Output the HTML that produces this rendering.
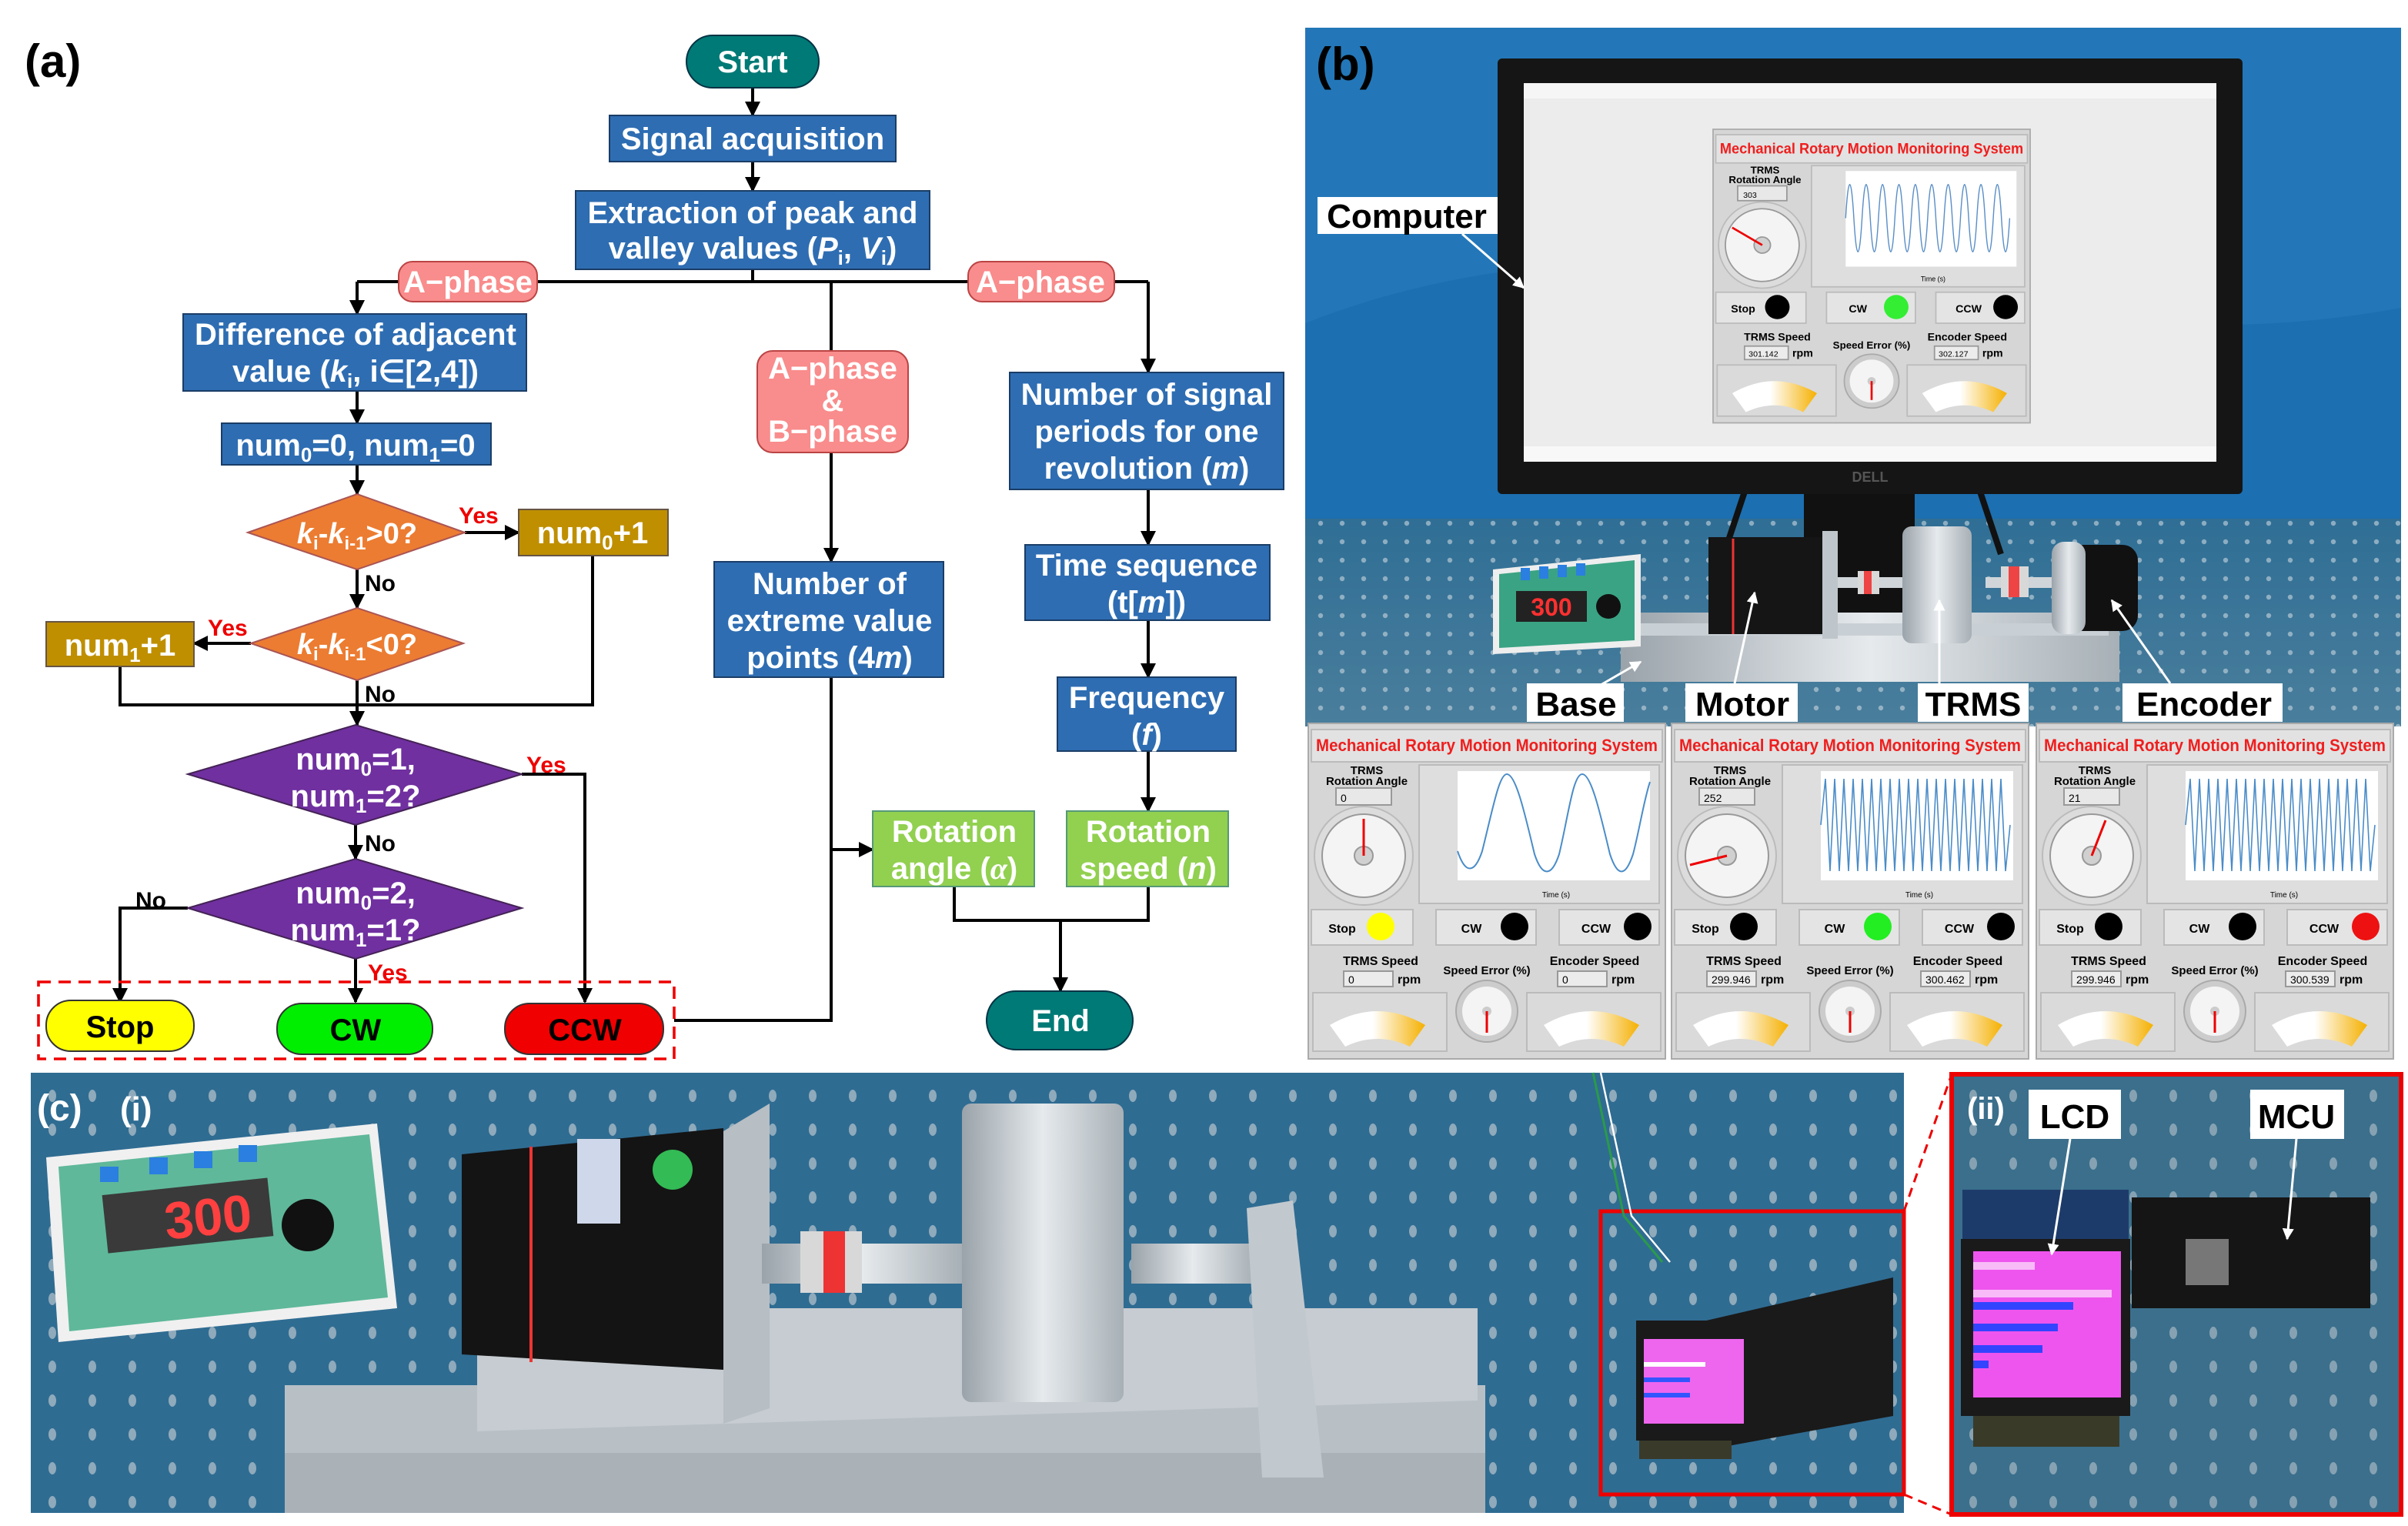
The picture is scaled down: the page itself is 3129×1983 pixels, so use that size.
<!DOCTYPE html>
<html><head><meta charset="utf-8">
<style>
html,body{margin:0;padding:0;background:#fff;}
svg{display:block;}
.t{font-family:"Liberation Sans Narrow","Liberation Sans",sans-serif;font-weight:bold;fill:#fff;text-anchor:middle;}
.k{font-family:"Liberation Sans Narrow","Liberation Sans",sans-serif;font-weight:bold;fill:#000;}
.r{font-family:"Liberation Sans Narrow","Liberation Sans",sans-serif;font-weight:bold;fill:#e00;}
.pl{font-family:"Liberation Sans","DejaVu Sans",sans-serif;}
.ln{stroke:#000;stroke-width:2;fill:none;}
.lb{font-family:"Liberation Sans",sans-serif;font-weight:bold;fill:#000;text-anchor:middle;}
</style></head>
<body>
<svg width="3129" height="1983" viewBox="0 0 1564.5 991.5" xmlns="http://www.w3.org/2000/svg">
<defs>
<marker id="a" viewBox="0 0 10 10" refX="9" refY="5" markerWidth="5" markerHeight="5" orient="auto"><path d="M0,0L10,5L0,10z" fill="#000"/></marker>
<marker id="w" viewBox="0 0 10 10" refX="9" refY="5" markerWidth="5" markerHeight="5" orient="auto"><path d="M0,0L10,5L0,10z" fill="#fff"/></marker>
<pattern id="dots" width="14" height="12" patternUnits="userSpaceOnUse"><circle cx="4" cy="4" r="1.6" fill="#c9d6de"/></pattern>
<pattern id="dots2" width="26" height="22" patternUnits="userSpaceOnUse"><ellipse cx="8" cy="8" rx="2.5" ry="4" fill="#b8c4cc"/></pattern>
<linearGradient id="gy" x1="0" x2="1"><stop offset="0" stop-color="#fff"/><stop offset="0.45" stop-color="#fff"/><stop offset="1" stop-color="#f5b000"/></linearGradient>
<linearGradient id="sil" x1="0" x2="1"><stop offset="0" stop-color="#9aa3aa"/><stop offset="0.5" stop-color="#e6eaed"/><stop offset="1" stop-color="#a7b0b6"/></linearGradient>
<linearGradient id="tbl" x1="0" y1="0" x2="0" y2="1"><stop offset="0" stop-color="#2f6e95"/><stop offset="1" stop-color="#4a7e9c"/></linearGradient>
<g id="pp">
 <rect x="0" y="0" width="232" height="218" fill="#d6d6d6" stroke="#aaa"/>
 <rect x="2" y="4" width="228" height="21" fill="#e2e2e2" stroke="#bbb"/>
 <text x="5" y="18" font-size="11" fill="#f01e1e" class="pl" font-weight="bold" textLength="222" lengthAdjust="spacingAndGlyphs">Mechanical Rotary Motion Monitoring System</text>
 <text x="38" y="33" font-size="7.5" text-anchor="middle" class="pl" font-weight="bold">TRMS</text>
 <text x="38" y="40" font-size="7.5" text-anchor="middle" class="pl" font-weight="bold">Rotation Angle</text>
 <rect x="18" y="42" width="36" height="11" fill="#e8e8e8" stroke="#999"/>
 <circle cx="36" cy="86" r="32" fill="#dcdcdc" stroke="#bbb"/>
 <circle cx="36" cy="86" r="27" fill="#f4f4f4" stroke="#999"/>
 <circle cx="36" cy="86" r="6" fill="#d0d0d0" stroke="#999"/>
 <rect x="72" y="27" width="156" height="90" fill="#dedede" stroke="#bbb"/>
 <rect x="97" y="31" width="125" height="71" fill="#fff"/>
 <text x="161" y="113" font-size="5" text-anchor="middle" class="pl">Time (s)</text>
 <rect x="2" y="121" width="66" height="23" fill="#e4e4e4" stroke="#bbb"/>
 <rect x="83" y="121" width="65" height="23" fill="#e4e4e4" stroke="#bbb"/>
 <rect x="163" y="121" width="65" height="23" fill="#e4e4e4" stroke="#bbb"/>
 <text x="22" y="136" font-size="8" text-anchor="middle" class="pl" font-weight="bold">Stop</text>
 <text x="106" y="136" font-size="8" text-anchor="middle" class="pl" font-weight="bold">CW</text>
 <text x="187" y="136" font-size="8" text-anchor="middle" class="pl" font-weight="bold">CCW</text>
 <text x="47" y="157" font-size="8" text-anchor="middle" class="pl" font-weight="bold">TRMS Speed</text>
 <text x="116" y="163" font-size="7.5" text-anchor="middle" class="pl" font-weight="bold">Speed Error (%)</text>
 <text x="186" y="157" font-size="8" text-anchor="middle" class="pl" font-weight="bold">Encoder Speed</text>
 <rect x="23" y="161" width="32" height="10" fill="#ececec" stroke="#999"/>
 <rect x="162" y="161" width="32" height="10" fill="#ececec" stroke="#999"/>
 <text x="58" y="169" font-size="8" class="pl" font-weight="bold">rpm</text>
 <text x="197" y="169" font-size="8" class="pl" font-weight="bold">rpm</text>
 <rect x="3" y="175" width="87" height="38" fill="#dadada" stroke="#bbb"/>
 <rect x="142" y="175" width="87" height="38" fill="#dadada" stroke="#bbb"/>
 <path d="M14,196 Q45,178 76,196 L66,210 Q45,200 24,210 Z" fill="url(#gy)"/>
 <path d="M153,196 Q184,178 215,196 L205,210 Q184,200 163,210 Z" fill="url(#gy)"/>
 <circle cx="116" cy="187" r="20" fill="#ccc" stroke="#aaa"/>
 <circle cx="116" cy="187" r="16" fill="#f4f4f4"/>
 <circle cx="116" cy="187" r="3" fill="#ccc"/>
 <line x1="116" y1="187" x2="116" y2="201" stroke="#e00" stroke-width="1.5"/>
</g>
</defs>

<!-- ============ (a) FLOWCHART ============ -->
<text x="16" y="50" class="k" font-size="30" font-family="Liberation Sans">(a)</text>

<g class="ln">
<line x1="489" y1="57" x2="489" y2="75" marker-end="url(#a)"/>
<line x1="489" y1="105" x2="489" y2="124" marker-end="url(#a)"/>
<line x1="489" y1="175" x2="489" y2="183"/>
<line x1="232" y1="183" x2="746" y2="183"/>
<line x1="232" y1="183" x2="232" y2="204" marker-end="url(#a)"/>
<line x1="232" y1="254" x2="232" y2="275" marker-end="url(#a)"/>
<line x1="232" y1="302" x2="232" y2="321" marker-end="url(#a)"/>
<line x1="302" y1="346" x2="337" y2="346" marker-end="url(#a)"/>
<line x1="232" y1="370" x2="232" y2="395" marker-end="url(#a)"/>
<line x1="163" y1="418" x2="126" y2="418" marker-end="url(#a)"/>
<line x1="232" y1="442" x2="232" y2="471" marker-end="url(#a)"/>
<polyline points="78,433 78,458 385,458 385,361"/>
<line x1="231" y1="536" x2="231" y2="558" marker-end="url(#a)"/>
<polyline points="339,503 380,503 380,651" marker-end="url(#a)"/>
<polyline points="122,590 78,590 78,651" marker-end="url(#a)"/>
<line x1="231" y1="623" x2="231" y2="651" marker-end="url(#a)"/>
<polyline points="438,663 540,663 540,440"/>
<line x1="540" y1="183" x2="540" y2="228"/>
<line x1="540" y1="294" x2="540" y2="365" marker-end="url(#a)"/>
<line x1="540" y1="552" x2="567" y2="552" marker-end="url(#a)"/>
<line x1="746" y1="183" x2="746" y2="242" marker-end="url(#a)"/>
<line x1="746" y1="318" x2="746" y2="354" marker-end="url(#a)"/>
<line x1="746" y1="403" x2="746" y2="440" marker-end="url(#a)"/>
<line x1="746" y1="488" x2="746" y2="527" marker-end="url(#a)"/>
<polyline points="620,576 620,598 746,598 746,576"/>
<line x1="689" y1="598" x2="689" y2="644" marker-end="url(#a)"/>
</g>

<rect x="446" y="23" width="86" height="34" rx="17" fill="#007a76" stroke="#034"/>
<text x="489" y="47" class="t" font-size="20">Start</text>

<rect x="396" y="75" width="186" height="30" fill="#2e6db2" stroke="#1a3d66"/>
<text x="489" y="97" class="t" font-size="20">Signal acquisition</text>

<rect x="374" y="124" width="230" height="51" fill="#2e6db2" stroke="#1a3d66"/>
<text x="489" y="145" class="t" font-size="20">Extraction of peak and</text>
<text x="489" y="168" class="t" font-size="20">valley values (<tspan font-style="italic">P</tspan><tspan font-size="13" dy="4">i</tspan><tspan dy="-4">, </tspan><tspan font-style="italic">V</tspan><tspan font-size="13" dy="4">i</tspan><tspan dy="-4">)</tspan></text>

<rect x="259" y="170" width="90" height="26" rx="9" fill="#f98c8c" stroke="#b44"/>
<text x="304" y="190" class="t" font-size="20">A−phase</text>
<rect x="629" y="170" width="95" height="26" rx="9" fill="#f98c8c" stroke="#b44"/>
<text x="676" y="190" class="t" font-size="20">A−phase</text>

<rect x="119" y="204" width="223" height="50" fill="#2e6db2" stroke="#1a3d66"/>
<text x="231" y="224" class="t" font-size="20">Difference of adjacent</text>
<text x="231" y="248" class="t" font-size="20">value (<tspan font-style="italic">k</tspan><tspan font-size="13" dy="4">i</tspan><tspan dy="-4">, i∈[2,4])</tspan></text>

<rect x="144" y="275" width="175" height="27" fill="#2e6db2" stroke="#1a3d66"/>
<text x="231" y="296" class="t" font-size="20">num<tspan font-size="13" dy="4">0</tspan><tspan dy="-4">=0, num</tspan><tspan font-size="13" dy="4">1</tspan><tspan dy="-4">=0</tspan></text>

<polygon points="161,346 232,321 302,346 232,370" fill="#ec7c31" stroke="#a55"/>
<text x="232" y="353" class="t" font-size="19"><tspan font-style="italic">k</tspan><tspan font-size="12" dy="4">i</tspan><tspan dy="-4">-</tspan><tspan font-style="italic">k</tspan><tspan font-size="12" dy="4">i-1</tspan><tspan dy="-4">&gt;0?</tspan></text>
<polygon points="163,418 232,395 301,418 232,442" fill="#ec7c31" stroke="#a55"/>
<text x="232" y="425" class="t" font-size="19"><tspan font-style="italic">k</tspan><tspan font-size="12" dy="4">i</tspan><tspan dy="-4">-</tspan><tspan font-style="italic">k</tspan><tspan font-size="12" dy="4">i-1</tspan><tspan dy="-4">&lt;0?</tspan></text>

<rect x="337" y="331" width="97" height="30" fill="#bf8f00" stroke="#654"/>
<text x="385" y="353" class="t" font-size="20">num<tspan font-size="13" dy="4">0</tspan><tspan dy="-4">+1</tspan></text>
<rect x="30" y="404" width="96" height="29" fill="#bf8f00" stroke="#654"/>
<text x="78" y="426" class="t" font-size="20">num<tspan font-size="13" dy="4">1</tspan><tspan dy="-4">+1</tspan></text>

<polygon points="122,503 231,471 339,503 231,536" fill="#7030a0" stroke="#425"/>
<text x="231" y="500" class="t" font-size="20">num<tspan font-size="13" dy="4">0</tspan><tspan dy="-4">=1,</tspan></text>
<text x="231" y="524" class="t" font-size="20">num<tspan font-size="13" dy="4">1</tspan><tspan dy="-4">=2?</tspan></text>
<polygon points="122,590 231,558 339,590 231,623" fill="#7030a0" stroke="#425"/>
<text x="231" y="587" class="t" font-size="20">num<tspan font-size="13" dy="4">0</tspan><tspan dy="-4">=2,</tspan></text>
<text x="231" y="611" class="t" font-size="20">num<tspan font-size="13" dy="4">1</tspan><tspan dy="-4">=1?</tspan></text>

<text x="298" y="340" class="r" font-size="15">Yes</text>
<text x="237" y="384" class="k" font-size="15">No</text>
<text x="135" y="413" class="r" font-size="15">Yes</text>
<text x="237" y="456" class="k" font-size="15">No</text>
<text x="342" y="502" class="r" font-size="15">Yes</text>
<text x="237" y="553" class="k" font-size="15">No</text>
<text x="88" y="590" class="k" font-size="15">No</text>
<text x="239" y="637" class="r" font-size="15">Yes</text>

<rect x="25" y="638" width="413" height="50" fill="none" stroke="#e00" stroke-width="1.8" stroke-dasharray="8,5"/>
<rect x="30" y="650" width="96" height="33" rx="16" fill="#ffff00" stroke="#333"/>
<text x="78" y="674" class="k" font-size="20" text-anchor="middle">Stop</text>
<rect x="180" y="652" width="101" height="33" rx="16" fill="#00ee00" stroke="#333"/>
<text x="231" y="676" class="k" font-size="20" text-anchor="middle">CW</text>
<rect x="328" y="652" width="103" height="33" rx="16" fill="#f00000" stroke="#333"/>
<text x="380" y="676" class="k" font-size="20" text-anchor="middle">CCW</text>

<rect x="492" y="228" width="98" height="66" rx="10" fill="#f98c8c" stroke="#b44"/>
<text x="541" y="246" class="t" font-size="20">A−phase</text>
<text x="541" y="267" class="t" font-size="20">&amp;</text>
<text x="541" y="287" class="t" font-size="20">B−phase</text>

<rect x="464" y="365" width="149" height="75" fill="#2e6db2" stroke="#1a3d66"/>
<text x="539" y="386" class="t" font-size="20">Number of</text>
<text x="539" y="410" class="t" font-size="20">extreme value</text>
<text x="539" y="434" class="t" font-size="20">points (4<tspan font-style="italic">m</tspan>)</text>

<rect x="656" y="242" width="178" height="76" fill="#2e6db2" stroke="#1a3d66"/>
<text x="745" y="263" class="t" font-size="20">Number of signal</text>
<text x="745" y="287" class="t" font-size="20">periods for one</text>
<text x="745" y="311" class="t" font-size="20">revolution (<tspan font-style="italic">m</tspan>)</text>

<rect x="666" y="354" width="159" height="49" fill="#2e6db2" stroke="#1a3d66"/>
<text x="745" y="374" class="t" font-size="20">Time sequence</text>
<text x="745" y="398" class="t" font-size="20">(t[<tspan font-style="italic">m</tspan>])</text>

<rect x="687" y="440" width="116" height="48" fill="#2e6db2" stroke="#1a3d66"/>
<text x="745" y="460" class="t" font-size="20">Frequency</text>
<text x="745" y="484" class="t" font-size="20">(<tspan font-style="italic">f</tspan>)</text>

<rect x="567" y="527" width="105" height="49" fill="#92d050" stroke="#597"/>
<text x="620" y="547" class="t" font-size="20">Rotation</text>
<text x="620" y="571" class="t" font-size="20">angle (<tspan font-style="italic" font-family="Liberation Serif">α</tspan>)</text>
<rect x="693" y="527" width="105" height="49" fill="#92d050" stroke="#597"/>
<text x="746" y="547" class="t" font-size="20">Rotation</text>
<text x="746" y="571" class="t" font-size="20">speed (<tspan font-style="italic">n</tspan>)</text>

<rect x="641" y="644" width="95" height="38" rx="19" fill="#007a76" stroke="#034"/>
<text x="689" y="670" class="t" font-size="20">End</text>

<!-- ============ (b) ============ -->
<rect x="848" y="18" width="712" height="454" fill="#1c6fb0"/>
<path d="M848,18 L1560,18 L1560,200 Q1400,230 1200,180 Q1000,150 848,210 Z" fill="#2a7fc0" opacity="0.5"/>
<rect x="848" y="337" width="712" height="135" fill="url(#tbl)"/>
<rect x="848" y="337" width="712" height="135" fill="url(#dots)" opacity="0.6"/>
<rect x="1172" y="300" width="72" height="100" fill="#111"/>
<line x1="1140" y1="300" x2="1120" y2="360" stroke="#111" stroke-width="4"/>
<line x1="1280" y1="300" x2="1300" y2="360" stroke="#111" stroke-width="4"/>
<rect x="973" y="38" width="484" height="283" rx="3" fill="#151515"/>
<rect x="990" y="54" width="450" height="246" fill="#ececec"/>
<rect x="990" y="54" width="450" height="10" fill="#f6f6f6"/>
<rect x="990" y="290" width="450" height="10" fill="#f8f8f8"/>
<text x="1215" y="313" font-size="9" fill="#555" text-anchor="middle" class="pl" font-weight="bold">DELL</text>
<g transform="translate(1113,84) scale(0.888,0.875)"><use href="#pp"/>
 <circle cx="47" cy="132" r="9" fill="#000"/><circle cx="134" cy="132" r="9" fill="#33ee33"/><circle cx="214" cy="132" r="9" fill="#000"/>
 <text x="22" y="51" font-size="6" class="pl">303</text>
 <text x="26" y="169" font-size="6" class="pl">301.142</text><text x="165" y="169" font-size="6" class="pl">302.127</text>
 <line x1="36" y1="86" x2="14" y2="73" stroke="#e00" stroke-width="1.5"/>
 <path d="M97,66 q3,-50 6,0 t6,0 t6,0 t6,0 t6,0 t6,0 t6,0 t6,0 t6,0 t6,0 t6,0 t6,0 t6,0 t6,0 t6,0 t6,0 t6,0 t6,0 t6,0 t6,0" fill="none" stroke="#5b8fc7" stroke-width="0.8"/>
</g>
<rect x="1053" y="398" width="324" height="45" fill="url(#sil)"/>
<rect x="1060" y="405" width="310" height="8" fill="#c9d0d5"/>
<polygon points="970,370 1066,360 1066,420 970,425" fill="#eee"/>
<polygon points="974,373 1062,364 1062,416 974,421" fill="#3aa383"/>
<rect x="985" y="384" width="46" height="20" fill="#222"/>
<text x="1008" y="400" font-size="16" fill="#ff3030" text-anchor="middle" class="pl" font-weight="bold">300</text>
<circle cx="1045" cy="394" r="8" fill="#111"/>
<rect x="988" y="369" width="6" height="8" fill="#2a7fe0"/><rect x="1000" y="368" width="6" height="8" fill="#2a7fe0"/><rect x="1012" y="367" width="6" height="8" fill="#2a7fe0"/><rect x="1024" y="366" width="6" height="8" fill="#2a7fe0"/>
<rect x="1186" y="375" width="52" height="7" fill="#cfd5d9"/>
<rect x="1290" y="375" width="45" height="7" fill="#cfd5d9"/>
<rect x="1110" y="349" width="74" height="63" fill="#151515"/>
<line x1="1126" y1="350" x2="1126" y2="412" stroke="#e33" stroke-width="1.5"/>
<rect x="1184" y="345" width="10" height="70" fill="#bfc6cb"/>
<rect x="1207" y="371" width="14" height="15" fill="#d8d8d8"/><rect x="1211" y="371" width="5" height="15" fill="#e44"/>
<rect x="1300" y="368" width="18" height="20" fill="#d8d8d8"/><rect x="1305" y="368" width="7" height="20" fill="#e44"/>
<rect x="1236" y="342" width="45" height="76" rx="6" fill="url(#sil)"/>
<rect x="1337" y="354" width="52" height="56" rx="10" fill="#111"/>
<rect x="1333" y="352" width="22" height="60" rx="8" fill="url(#sil)"/>
<rect x="856" y="128" width="117" height="24" fill="#fff"/>
<text x="914" y="148" class="lb" font-size="22">Computer</text>
<line x1="950" y1="152" x2="990" y2="187" stroke="#fff" stroke-width="1.5" marker-end="url(#w)"/>
<rect x="992" y="444" width="63" height="25" fill="#fff"/>
<text x="1024" y="465" class="lb" font-size="22">Base</text>
<line x1="1040" y1="445" x2="1066" y2="430" stroke="#fff" stroke-width="1.5" marker-end="url(#w)"/>
<rect x="1095" y="444" width="73" height="25" fill="#fff"/>
<text x="1132" y="465" class="lb" font-size="22">Motor</text>
<line x1="1127" y1="444" x2="1140" y2="385" stroke="#fff" stroke-width="1.5" marker-end="url(#w)"/>
<rect x="1246" y="444" width="72" height="25" fill="#fff"/>
<text x="1282" y="465" class="lb" font-size="22">TRMS</text>
<line x1="1260" y1="444" x2="1260" y2="390" stroke="#fff" stroke-width="1.5" marker-end="url(#w)"/>
<rect x="1379" y="444" width="104" height="25" fill="#fff"/>
<text x="1432" y="465" class="lb" font-size="22">Encoder</text>
<line x1="1410" y1="444" x2="1372" y2="390" stroke="#fff" stroke-width="1.5" marker-end="url(#w)"/>
<text x="855" y="52" class="k" font-size="30" font-family="Liberation Sans">(b)</text>

<g transform="translate(850,470)"><use href="#pp"/>
 <circle cx="47" cy="132" r="9" fill="#ffff00"/><circle cx="134" cy="132" r="9" fill="#000"/><circle cx="214" cy="132" r="9" fill="#000"/>
 <text x="21" y="51" font-size="7" class="pl">0</text><text x="26" y="169" font-size="7" class="pl">0</text><text x="165" y="169" font-size="7" class="pl">0</text>
 <line x1="36" y1="86" x2="36" y2="62" stroke="#e00" stroke-width="1.5"/>
 <path d="M97,83 C102,98 108,98 113,83 C120,55 124,33 129,33 C135,33 141,60 147,85 C152,100 158,100 163,85 C169,60 172,33 178,33 C184,33 190,60 196,85 C201,100 206,100 211,85 C215,70 218,50 222,38" fill="none" stroke="#4a8cc8" stroke-width="1"/>
</g>
<g transform="translate(1086,470)"><use href="#pp"/>
 <circle cx="47" cy="132" r="9" fill="#000"/><circle cx="134" cy="132" r="9" fill="#22ee22"/><circle cx="214" cy="132" r="9" fill="#000"/>
 <text x="21" y="51" font-size="7" class="pl">252</text><text x="26" y="169" font-size="7" class="pl">299.946</text><text x="165" y="169" font-size="7" class="pl">300.462</text>
 <line x1="36" y1="86" x2="12" y2="92" stroke="#e00" stroke-width="1.5"/>
 <path d="M97,66 l3,-30 l3,60 l3,-60 l3,60 l3,-60 l3,60 l3,-60 l3,60 l3,-60 l3,60 l3,-60 l3,60 l3,-60 l3,60 l3,-60 l3,60 l3,-60 l3,60 l3,-60 l3,60 l3,-60 l3,60 l3,-60 l3,60 l3,-60 l3,60 l3,-60 l3,60 l3,-60 l3,60 l3,-60 l3,60 l3,-60 l3,60 l3,-60 l3,60 l3,-60 l3,60 l3,-60 l3,60 l3,-30" fill="none" stroke="#4a8cc8" stroke-width="0.8"/>
</g>
<g transform="translate(1323,470)"><use href="#pp"/>
 <circle cx="47" cy="132" r="9" fill="#000"/><circle cx="134" cy="132" r="9" fill="#000"/><circle cx="214" cy="132" r="9" fill="#ee1111"/>
 <text x="21" y="51" font-size="7" class="pl">21</text><text x="26" y="169" font-size="7" class="pl">299.946</text><text x="165" y="169" font-size="7" class="pl">300.539</text>
 <line x1="36" y1="86" x2="45" y2="63" stroke="#e00" stroke-width="1.5"/>
 <path d="M97,66 l3,-30 l3,60 l3,-60 l3,60 l3,-60 l3,60 l3,-60 l3,60 l3,-60 l3,60 l3,-60 l3,60 l3,-60 l3,60 l3,-60 l3,60 l3,-60 l3,60 l3,-60 l3,60 l3,-60 l3,60 l3,-60 l3,60 l3,-60 l3,60 l3,-60 l3,60 l3,-60 l3,60 l3,-60 l3,60 l3,-60 l3,60 l3,-60 l3,60 l3,-60 l3,60 l3,-60 l3,60 l3,-30" fill="none" stroke="#4a8cc8" stroke-width="0.8"/>
</g>

<!-- ============ (c)(i) ============ -->
<rect x="20" y="697" width="1217" height="286" fill="#2f6c92"/>
<rect x="20" y="697" width="1217" height="286" fill="url(#dots2)" opacity="0.7"/>
<polygon points="185,900 965,900 965,983 185,983" fill="#b8c0c6"/>
<polygon points="310,850 960,850 960,910 310,930" fill="#c6ccd1"/>
<rect x="185" y="944" width="780" height="39" fill="#aab2b8"/>
<polygon points="30,752 245,730 258,850 38,872" fill="#f0f0f0"/>
<polygon points="38,758 240,737 252,843 45,865" fill="#5fb89a"/>
<rect x="68" y="771" width="108" height="38" fill="#3a3a3a" transform="rotate(-6 120 790)"/>
<text x="135" y="804" font-size="34" fill="#ff4040" text-anchor="middle" class="pl" font-weight="bold" transform="rotate(-6 120 790)">300</text>
<circle cx="200" cy="796" r="17" fill="#111"/>
<rect x="65" y="758" width="12" height="10" fill="#2a7fe0"/><rect x="97" y="752" width="12" height="11" fill="#2a7fe0"/><rect x="126" y="748" width="12" height="11" fill="#2a7fe0"/><rect x="155" y="744" width="12" height="11" fill="#2a7fe0"/>
<polygon points="300,750 470,733 470,890 300,880" fill="#141414"/>
<line x1="345" y1="745" x2="345" y2="885" stroke="#e33" stroke-width="2"/>
<rect x="375" y="740" width="28" height="55" fill="#cfd8ea"/>
<circle cx="437" cy="760" r="13" fill="#33bb55"/>
<polygon points="470,735 500,717 500,915 470,925" fill="#b7bec4"/>
<rect x="495" y="808" width="130" height="26" fill="url(#sil)"/>
<rect x="520" y="800" width="40" height="40" fill="#d8d8d8"/>
<rect x="535" y="800" width="14" height="40" fill="#e33"/>
<rect x="735" y="808" width="80" height="26" fill="url(#sil)"/>
<rect x="625" y="717" width="105" height="194" rx="6" fill="url(#sil)"/>
<polygon points="810,785 840,780 860,960 820,960" fill="#c2c9ce"/>
<rect x="1040" y="787" width="197" height="184" fill="none" stroke="#e00" stroke-width="2.5"/>
<polygon points="1100,860 1230,830 1230,920 1120,940" fill="#1a1a1a"/>
<rect x="1063" y="858" width="72" height="78" fill="#1a1a1a"/>
<rect x="1068" y="870" width="65" height="55" fill="#ee66ee"/>
<rect x="1068" y="885" width="40" height="3" fill="#fff"/><rect x="1068" y="895" width="30" height="3" fill="#3355ff"/><rect x="1068" y="905" width="30" height="3" fill="#3355ff"/>
<rect x="1065" y="936" width="60" height="12" fill="#3a3a2a"/>
<polyline points="1035,697 1055,790 1080,820" fill="none" stroke="#2a9a4a" stroke-width="1.5"/>
<polyline points="1040,697 1060,790 1085,820" fill="none" stroke="#fff" stroke-width="1.2"/>
<text x="24" y="728" font-size="24" fill="#fff" class="pl" font-weight="bold">(c)</text>
<text x="78" y="728" font-size="22" fill="#fff" class="pl" font-weight="bold">(i)</text>

<line x1="1237" y1="787" x2="1268" y2="698" stroke="#e00" stroke-width="1.5" stroke-dasharray="6,4"/>
<line x1="1237" y1="971" x2="1268" y2="984" stroke="#e00" stroke-width="1.5" stroke-dasharray="6,4"/>

<!-- ============ (ii) ============ -->
<rect x="1268" y="698" width="292" height="286" fill="#3b6f8c"/>
<rect x="1268" y="698" width="292" height="286" fill="url(#dots2)" opacity="0.6"/>
<rect x="1385" y="778" width="155" height="72" fill="#151515"/>
<rect x="1420" y="805" width="28" height="30" fill="#777"/>
<rect x="1275" y="773" width="108" height="35" fill="#1d3b6a"/>
<rect x="1274" y="805" width="110" height="115" fill="#1a1a1a"/>
<rect x="1282" y="813" width="96" height="95" fill="#ee55ee"/>
<rect x="1282" y="820" width="40" height="5" fill="#fff" opacity="0.6"/>
<rect x="1282" y="838" width="90" height="5" fill="#fff" opacity="0.6"/>
<rect x="1282" y="846" width="65" height="5" fill="#3344ff"/>
<rect x="1282" y="860" width="55" height="5" fill="#3344ff"/>
<rect x="1282" y="874" width="45" height="5" fill="#3344ff"/>
<rect x="1282" y="884" width="10" height="5" fill="#3344ff"/>
<rect x="1282" y="920" width="95" height="20" fill="#3a3a28"/>
<rect x="1268" y="698" width="292" height="286" fill="none" stroke="#e00" stroke-width="3"/>
<text x="1278" y="727" font-size="20" fill="#fff" class="pl" font-weight="bold">(ii)</text>
<rect x="1318" y="708" width="60" height="32" fill="#fff"/>
<text x="1348" y="733" class="lb" font-size="22">LCD</text>
<line x1="1345" y1="740" x2="1333" y2="815" stroke="#fff" stroke-width="1.5" marker-end="url(#w)"/>
<rect x="1462" y="708" width="61" height="32" fill="#fff"/>
<text x="1492" y="733" class="lb" font-size="22">MCU</text>
<line x1="1492" y1="740" x2="1486" y2="805" stroke="#fff" stroke-width="1.5" marker-end="url(#w)"/>
</svg>
</body></html>
